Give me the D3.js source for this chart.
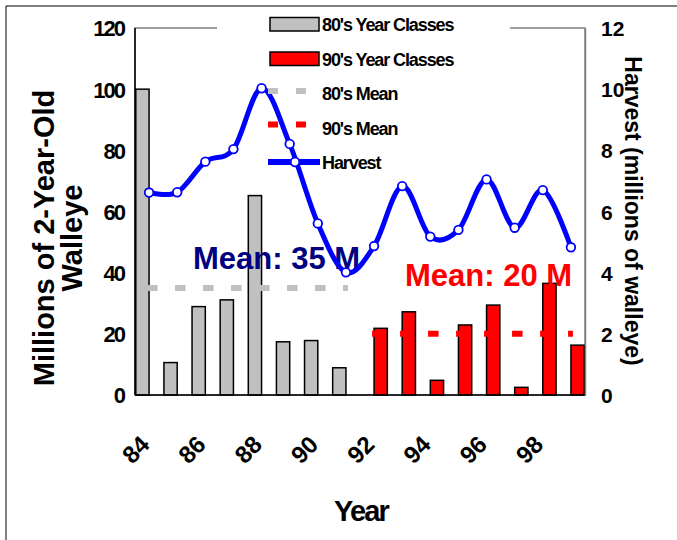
<!DOCTYPE html>
<html><head><meta charset="utf-8">
<script src="https://cdn.jsdelivr.net/npm/d3@7"></script>
<style>
html,body{margin:0;padding:0;background:#fff;}
svg text{font-family:"Liberation Sans",Arial,sans-serif;font-weight:bold;}
</style>
</head><body>
<svg id="chart" width="677" height="540"></svg>
<script>
const years = ["84","85","86","87","88","89","90","91","92","93","94","95","96","97","98","99"];
const yearClasses80s = [100,10.6,28.9,31.1,65.2,17.4,17.8,8.9,null,null,null,null,null,null,null,null];
const yearClasses90s = [null,null,null,null,null,null,null,null,21.8,27.2,4.8,22.9,29.4,2.5,36.5,16.3];
const harvest = [6.62,6.63,7.63,8.04,10.03,8.21,5.61,4.01,4.87,6.83,5.18,5.40,7.05,5.47,6.70,4.83];
const mean80s = 35, mean90s = 20;
const mean80sYears = ["84","91"], mean90sYears = ["92","99"];
const xTickLabels = ["84","86","88","90","92","94","96","98"];
const leftTicks = [0,20,40,60,80,100,120];
const rightTicks = [0,2,4,6,8,10,12];
const legendLabels = ["80's Year Classes","90's Year Classes","80's Mean","90's Mean","Harvest"];

const svg = d3.select("#chart");
const L = 135, R = 585, T = 28, B = 395;

const x = d3.scaleBand().domain(years).range([L,R]).paddingInner(0).paddingOuter(0);
const sub = d3.scaleBand().domain(["80s","90s"]).range([0,x.bandwidth()]).paddingInner(0).paddingOuter(0.06);
const y = d3.scaleLinear().domain([0,120]).range([B,T]);
const y2 = d3.scaleLinear().domain([0,12]).range([B,T]);
const cx = d => x(d) + x.bandwidth()/2;

// outer frame (top/left)
svg.append("line").attr("x1",6).attr("y1",6).attr("x2",677).attr("y2",6).attr("stroke","#000").attr("stroke-width",1);
svg.append("line").attr("x1",6).attr("y1",6).attr("x2",6).attr("y2",540).attr("stroke","#000").attr("stroke-width",1);

// plot border
svg.append("rect").attr("x",L).attr("y",T).attr("width",R-L).attr("height",B-T)
  .attr("fill","none").attr("stroke","#808080").attr("stroke-width",1.5);
// legend background
svg.append("rect").attr("x",217).attr("y",8).attr("width",293).attr("height",165).attr("fill","#fff");

// bars
const bars = [
  {key:"80s", vals:yearClasses80s, fill:"#C0C0C0"},
  {key:"90s", vals:yearClasses90s, fill:"#FF0000"}
];
bars.forEach(s=>{
  svg.append("g").selectAll("rect").data(years.map((yr,i)=>({yr,v:s.vals[i]})).filter(d=>d.v!=null))
    .join("rect")
    .attr("x",d=>x(d.yr)+sub(s.key))
    .attr("width",sub.bandwidth())
    .attr("y",d=>y(d.v))
    .attr("height",d=>B-y(d.v))
    .attr("fill",s.fill).attr("stroke","#000").attr("stroke-width",1.5);
});

// axes lines
svg.append("line").attr("x1",L).attr("x2",L).attr("y1",T).attr("y2",B).attr("stroke","#000").attr("stroke-width",1.5);
svg.append("line").attr("x1",L).attr("x2",R).attr("y1",B).attr("y2",B).attr("stroke","#000").attr("stroke-width",1.5);

// mean lines
function meanLine(yrs,val,color){
  svg.append("line")
    .attr("x1",cx(yrs[0])-2).attr("x2",cx(yrs[1])+2)
    .attr("y1",y(val)).attr("y2",y(val))
    .attr("stroke",color).attr("stroke-width",6).attr("stroke-dasharray","10.5,17.5");
}
meanLine(mean80sYears,mean80s,"#C0C0C0");
meanLine(mean90sYears,mean90s,"#FF0000");

// mean texts
svg.append("text").attr("x",193).attr("y",269).attr("font-size",31).attr("fill","#000080").text("Mean: 35 M");
svg.append("text").attr("x",405).attr("y",286).attr("font-size",31).attr("fill","#FF0000").text("Mean: 20 M");

// harvest line
const line = d3.line().x((d,i)=>cx(years[i])).y(d=>y2(d)).curve(d3.curveCatmullRom.alpha(0));
svg.append("path").datum(harvest).attr("d",line).attr("fill","none").attr("stroke","#0000FF").attr("stroke-width",5);
svg.append("g").selectAll("circle").data(harvest).join("circle")
  .attr("cx",(d,i)=>cx(years[i])).attr("cy",d=>y2(d)).attr("r",4.3)
  .attr("fill","#fff").attr("stroke","#0000FF").attr("stroke-width",1.8);

// left axis
const gl = svg.append("g").attr("transform",`translate(${L},0)`)
  .call(d3.axisLeft(y).tickValues(leftTicks).tickSize(0).tickPadding(11));
gl.select(".domain").remove();
gl.selectAll("text").attr("font-size",22).attr("letter-spacing","-2").attr("fill","#000").attr("dy","0.36em");

// right axis
const gr = svg.append("g").attr("transform",`translate(${R},0)`)
  .call(d3.axisRight(y2).tickValues(rightTicks).tickSize(0).tickPadding(16));
gr.select(".domain").attr("stroke","#808080").attr("stroke-width",1.5);
gr.selectAll("text").attr("font-size",21).attr("fill","#000").attr("dy","0.36em");

// bottom axis
const gb = svg.append("g").attr("transform",`translate(0,${B})`)
  .call(d3.axisBottom(x).tickValues(xTickLabels).tickSize(0));
gb.select(".domain").remove();
gb.selectAll("text").attr("font-size",24).attr("fill","#000")
  .attr("text-anchor","end").attr("y",0).attr("dy",0)
  .attr("transform","translate(2,51) rotate(-45)");
svg.selectAll("g").attr("font-family",null);

// axis titles
const lt = svg.append("text").attr("font-size",29).attr("text-anchor","middle").attr("fill","#000")
  .attr("transform","translate(0,238) rotate(-90)");
lt.append("tspan").attr("x",0).attr("y",54).text("Millions of 2-Year-Old");
lt.append("tspan").attr("x",0).attr("y",82).text("Walleye");
svg.append("text").attr("font-size",23).attr("text-anchor","middle").attr("fill","#000")
  .attr("transform","translate(625,211) rotate(90)").text("Harvest (millions of walleye)");
svg.append("text").attr("x",361).attr("y",521).attr("font-size",29).attr("letter-spacing","-1.8")
  .attr("text-anchor","middle").attr("fill","#000").text("Year");

// legend
const rows = [24,58.5,93,127.5,162];
const lg = svg.append("g");
lg.append("rect").attr("x",270).attr("y",17.5).attr("width",49).attr("height",13.5).attr("fill","#C0C0C0").attr("stroke","#000").attr("stroke-width",1.5);
lg.append("rect").attr("x",270).attr("y",52).attr("width",49).attr("height",13.5).attr("fill","#FF0000").attr("stroke","#000").attr("stroke-width",1.5);
lg.append("line").attr("x1",268).attr("x2",320).attr("y1",rows[2]-2).attr("y2",rows[2]-2).attr("stroke","#C0C0C0").attr("stroke-width",6).attr("stroke-dasharray","10,18");
lg.append("line").attr("x1",268).attr("x2",320).attr("y1",rows[3]-3).attr("y2",rows[3]-3).attr("stroke","#FF0000").attr("stroke-width",6).attr("stroke-dasharray","10,18");
lg.append("line").attr("x1",268).attr("x2",320).attr("y1",rows[4]).attr("y2",rows[4]).attr("stroke","#0000FF").attr("stroke-width",6);
lg.append("circle").attr("cx",295).attr("cy",rows[4]).attr("r",4.3).attr("fill","#fff").attr("stroke","#0000FF").attr("stroke-width",1.8);
lg.selectAll("text.lab").data(legendLabels).join("text").attr("class","lab")
  .attr("x",322).attr("y",(d,i)=>rows[i]+7).attr("font-size",18).attr("letter-spacing","-1.1").attr("fill","#000")
  .text(d=>d);
</script>
</body></html>
